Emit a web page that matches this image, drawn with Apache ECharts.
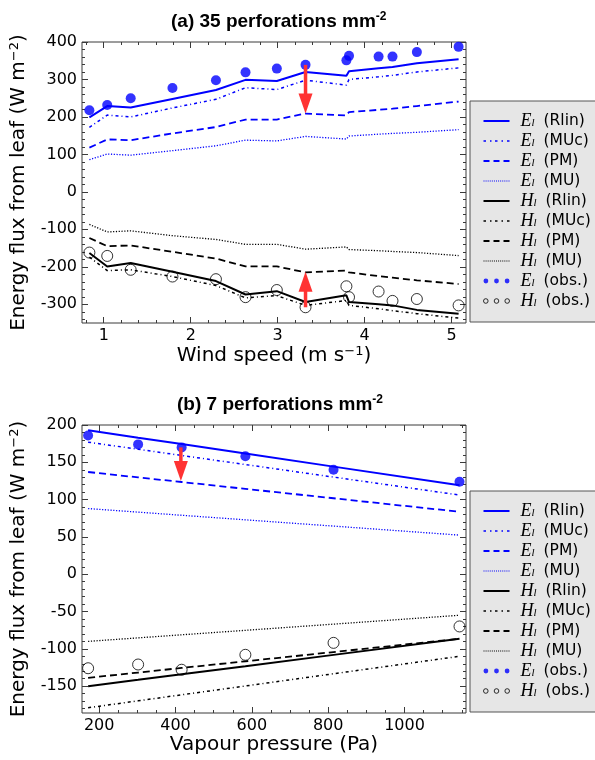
<!DOCTYPE html>
<html><head><meta charset="utf-8">
<script src="https://cdn.jsdelivr.net/npm/echarts@6/dist/echarts.min.js"></script>
<style>html,body{margin:0;padding:0;background:#fff}#c{width:595px;height:760px}</style>
</head><body><div id="c"></div>
<script>
// ---------- Panel (a): 35 perforations mm-2 ----------
const windSpeed = [0.835, 1.04, 1.31, 1.79, 2.29, 2.63, 2.99, 3.32, 3.79, 3.82, 4.16, 4.32, 4.60, 5.08];
const aE_obs  = [218, 232, 250, 277, 298, 319, 329, 339, 351, 363, 361, 361, 373, 387];
const aH_obs  = [-162, -171, -208, -226, -233, -281, -262, -308, -252, -281, -266, -291, -286, -303];
const aE_Rlin = [199, 229, 225, 248, 272, 299, 296, 320, 310, 322, 330, 333, 343, 354];
const aE_MUc  = [172, 205, 200, 224, 247, 278, 273, 298, 285, 300, 307, 311, 320, 331];
const aE_PM   = [118, 140, 138, 156, 173, 193, 193, 209, 204, 213, 219, 222, 229, 241];
const aE_MU   = [86, 101, 98, 110, 123, 138, 136, 148, 141, 149, 154, 156, 159, 166];
const aH_Rlin = [-163, -199, -190, -213, -238, -274, -265, -294, -276, -294, -300, -303, -315, -325];
const aH_MUc  = [-174, -210, -208, -226, -250, -283, -277, -303, -290, -303, -312, -317, -325, -337];
const aH_PM   = [-123, -145, -143, -160, -178, -199, -199, -215, -210, -215, -225, -229, -236, -246];
const aH_MU   = [-87, -107, -104, -117, -127, -140, -140, -153, -147, -154, -157, -159, -162, -170];
const aArrows = [[3.32, 339, 209], [3.32, -308, -213]];
const aXTicks = [1, 2, 3, 4, 5];
const aYTicks = [-300, -200, -100, 0, 100, 200, 300, 400];

// ---------- Panel (b): 7 perforations mm-2 ----------
const vapour  = [171, 302, 416, 583, 814, 1144];
const bE_obs  = [186, 174, 170, 158, 140, 124];
const bH_obs  = [-126, -121, -128, -108, -92, -70];
const bE_Rlin = [193, 183, 174.4, 161.7, 144.2, 119.2];
const bE_MUc  = [177, 167.5, 159.2, 147, 130.2, 106.1];
const bE_PM   = [137, 129.8, 123.6, 114.4, 101.8, 83.7];
const bE_MU   = [88, 83.2, 79, 72.9, 64.5, 52.4];
const bH_Rlin = [-150, -141.5, -134, -123.2, -108.1, -86.6];
const bH_MUc  = [-179, -169.7, -161.6, -149.8, -133.4, -110];
const bH_PM   = [-138.8, -131.8, -125.6, -116.7, -104.3, -86.5];
const bH_MU   = [-90, -85.3, -81.2, -75.2, -66.9, -55];
const bArrows = [[414, 170, 125]];
const bXTicks = [200, 400, 600, 800, 1000];
const bYTicks = [-150, -100, -50, 0, 50, 100, 150, 200];

const legendNames = ['E_l (Rlin)', 'E_l (MUc)', 'E_l (PM)', 'E_l (MU)', 'H_l (Rlin)', 'H_l (MUc)', 'H_l (PM)', 'H_l (MU)', 'E_l (obs.)', 'H_l (obs.)'];

// ---------- helpers ----------
const FRAME = '#3a3a3a';
const BLUE = '#0000ff';
const RED = '#ff3333';
function minorTicks(min, max, step, majors) {
  const out = [];
  const start = Math.ceil(min / step - 1e-9);
  for (let k = start; k * step <= max + 1e-9; k++) {
    const v = +(k * step).toFixed(6);
    if (!majors.some(m => Math.abs(m - v) < 1e-9)) out.push(v);
  }
  return out;
}
function axisPair(grid, side, min, max, major, minor, extra) {
  const base = {
    gridIndex: grid, type: 'value', min, max, position: side,
    axisLine: { show: false, onZero: false }, splitLine: { show: false }, axisLabel: { show: false },
    axisTick: { show: true, inside: true, length: 6, lineStyle: { color: FRAME, width: 1 }, customValues: major }
  };
  const minorAx = Object.assign({}, base, {
    axisTick: { show: true, inside: true, length: 3, lineStyle: { color: FRAME, width: 1 }, customValues: minor }
  });
  return [Object.assign({}, base, extra || {}), minorAx];
}
const labelStyle = { show: true, fontFamily: 'DejaVu Sans', fontSize: 16, color: '#000', formatter: v => String(v) };
const NAME_FS = 20;
const supRich = {
  p: { fontFamily: 'DejaVu Sans', fontSize: 13, color: '#000', padding: [0, 0, 9, 0] },
  q: { fontFamily: 'DejaVu Sans', fontSize: NAME_FS, color: '#000' }
};

const dashes = { Rlin: 'solid', MUc: [3, 3, 1, 3], PM: [7, 4], MU: [1.2, 1.6] };
const widths = { Rlin: 2, MUc: 1.5, PM: 1.8, MU: 1.3 };
function lineSeries(name, xs, ys, color, key, xi, yi) {
  return {
    type: 'line', name, xAxisIndex: xi, yAxisIndex: yi,
    data: xs.map((x, i) => [x, ys[i]]), symbol: 'none', showSymbol: false,
    color, itemStyle: { color }, lineStyle: { color, width: widths[key], type: dashes[key] },
    z: 2, silent: true
  };
}
function obsSeries(name, xs, ys, filled, xi, yi) {
  return {
    type: 'scatter', name, xAxisIndex: xi, yAxisIndex: yi,
    data: xs.map((x, i) => [x, ys[i]]), symbol: 'circle', symbolSize: filled ? 10 : 11,
    itemStyle: filled ? { color: BLUE, borderWidth: 0 } : { color: 'rgba(255,255,255,0)', borderColor: '#000', borderWidth: 1 },
    z: 3, silent: true, clip: false
  };
}
function arrowSeries(data, xi, yi) {
  return {
    type: 'custom', xAxisIndex: xi, yAxisIndex: yi, data, z: 10, silent: true, clip: false,
    encode: { x: 0, y: [1, 2] },
    renderItem(params, api) {
      const p1 = api.coord([api.value(0), api.value(1)]);
      const p2 = api.coord([api.value(0), api.value(2)]);
      const dir = p2[1] > p1[1] ? 1 : -1;
      const hl = 20, hw = 7;
      const base = p2[1] - dir * hl;
      return { type: 'group', children: [
        { type: 'line', shape: { x1: p1[0], y1: p1[1], x2: p2[0], y2: base + dir * 1 }, style: { stroke: RED, lineWidth: 3.5 } },
        { type: 'polygon', shape: { points: [[p2[0], p2[1]], [p2[0] - hw, base], [p2[0] + hw, base]] }, style: { fill: RED } }
      ] };
    }
  };
}
function panelSeries(xs, d, xi, yi) {
  return [
    lineSeries('E_l (Rlin)', xs, d.E_Rlin, BLUE, 'Rlin', xi, yi),
    lineSeries('E_l (MUc)', xs, d.E_MUc, BLUE, 'MUc', xi, yi),
    lineSeries('E_l (PM)', xs, d.E_PM, BLUE, 'PM', xi, yi),
    lineSeries('E_l (MU)', xs, d.E_MU, BLUE, 'MU', xi, yi),
    lineSeries('H_l (Rlin)', xs, d.H_Rlin, '#000', 'Rlin', xi, yi),
    lineSeries('H_l (MUc)', xs, d.H_MUc, '#000', 'MUc', xi, yi),
    lineSeries('H_l (PM)', xs, d.H_PM, '#000', 'PM', xi, yi),
    lineSeries('H_l (MU)', xs, d.H_MU, '#000', 'MU', xi, yi),
    obsSeries('E_l (obs.)', xs, d.E_obs, true, xi, yi),
    obsSeries('H_l (obs.)', xs, d.H_obs, false, xi, yi),
    arrowSeries(d.arrows, xi, yi)
  ];
}

// legend icons (paths)
function dotPath(n, step, w, h) { let s = ''; for (let i = 0; i < n; i++) { const x = +(i * step).toFixed(2); s += `M${x},0h${w}v${h}h-${w}z `; } return s; }
function circlesPath(r) { const cs = [r, 13, 26 - r]; return cs.map(c => `M${(c - r).toFixed(2)},${r}a${r},${r} 0 1,0 ${2 * r},0a${r},${r} 0 1,0 -${2 * r},0z`).join(' '); }
const icons = {
  Rlin: 'path://M0,0H26V2H0Z',
  MUc: 'path://M0,0h2.5v1.5h-2.5z M6.5,0h1.5v1.5h-1.5z M11.5,0h2.5v1.5h-2.5z M18,0h1.5v1.5h-1.5z M23.5,0h2.5v1.5h-2.5z',
  PM: 'path://M0,0h6v1.8h-6z M10,0h6v1.8h-6z M20,0h6v1.8h-6z',
  MU: 'path://' + dotPath(13, 2.083, 1, 1),
  Eobs: 'path://' + circlesPath(2.4),
  Hobs: 'path://' + circlesPath(2.3)
};
function legendData() {
  return legendNames.map(n => {
    const key = n.match(/\((.*)\)/)[1];
    if (key === 'obs.') {
      return n[0] === 'E'
        ? { name: n, icon: icons.Eobs, itemStyle: { color: BLUE, borderWidth: 0 } }
        : { name: n, icon: icons.Hobs, itemStyle: { color: 'rgba(255,255,255,0)', borderColor: '#000', borderWidth: 1 } };
    }
    return { name: n, icon: icons[key], itemStyle: { color: n[0] === 'E' ? BLUE : '#000', borderWidth: 0 } };
  });
}
function legendAt(top) {
  return {
    orient: 'vertical', left: 470, top, data: legendData(), selectedMode: false,
    backgroundColor: '#e6e6e6', borderColor: '#555', borderWidth: 1, borderRadius: 0,
    padding: [11, 40, 12, 13], itemWidth: 26, itemHeight: 14, itemGap: 2,
    symbolKeepAspect: true,
    formatter: name => name.replace(/^([EH])_l (.*)$/, '{m|$1}{s|l}{t|$2}'),
    textStyle: {
      fontFamily: 'DejaVu Sans', fontSize: 15, color: '#000', lineHeight: 14,
      rich: {
        m: { fontFamily: 'Liberation Serif', fontStyle: 'italic', fontSize: 18, color: '#000', lineHeight: 14, padding: [0, 0, 0, 6] },
        s: { fontFamily: 'Liberation Serif', fontStyle: 'italic', fontSize: 11, color: '#000', lineHeight: 14, padding: [5, 0, 0, 0] },
        t: { fontFamily: 'DejaVu Sans', fontSize: 15.5, color: '#000', lineHeight: 14, padding: [0, 0, 0, 9] }
      }
    }
  };
}

// ---------- axes ----------
const aXRange = [0.75, 5.165], aYRange = [-350, 400];
const bXRange = [155, 1161], bYRange = [-186, 200];
const aXMinor = minorTicks(aXRange[0], aXRange[1], 0.2, aXTicks);
const aYMinor = minorTicks(aYRange[0], aYRange[1], 20, aYTicks);
const bXMinor = minorTicks(bXRange[0], bXRange[1], 50, bXTicks);
const bYMinor = minorTicks(bYRange[0], bYRange[1], 10, bYTicks);

const yNameObj = {
  name: 'Energy flux from leaf (W m{p|−2}{q|)}', nameLocation: 'middle', nameGap: 52, nameRotate: 90,
  nameTextStyle: { fontFamily: 'DejaVu Sans', fontSize: NAME_FS, color: '#000', rich: supRich }
};

const xAxes = [
  ...axisPair(0, 'bottom', aXRange[0], aXRange[1], aXTicks, aXMinor, {
    axisLabel: Object.assign({}, labelStyle, { margin: 5, customValues: aXTicks }),
    name: 'Wind speed (m s{p|−1}{q|)}', nameLocation: 'middle', nameGap: 22,
    nameTextStyle: { fontFamily: 'DejaVu Sans', fontSize: NAME_FS, color: '#000', rich: supRich }
  }),
  ...axisPair(0, 'top', aXRange[0], aXRange[1], aXTicks, aXMinor),
  ...axisPair(1, 'bottom', bXRange[0], bXRange[1], bXTicks, bXMinor, {
    axisLabel: Object.assign({}, labelStyle, { margin: 5, customValues: bXTicks }),
    name: 'Vapour pressure (Pa)', nameLocation: 'middle', nameGap: 22,
    nameTextStyle: { fontFamily: 'DejaVu Sans', fontSize: NAME_FS, color: '#000' }
  }),
  ...axisPair(1, 'top', bXRange[0], bXRange[1], bXTicks, bXMinor)
];
const yAxes = [
  ...axisPair(0, 'left', aYRange[0], aYRange[1], aYTicks, aYMinor,
    Object.assign({ axisLabel: Object.assign({}, labelStyle, { margin: 5, customValues: aYTicks }) }, yNameObj)),
  ...axisPair(0, 'right', aYRange[0], aYRange[1], aYTicks, aYMinor),
  ...axisPair(1, 'left', bYRange[0], bYRange[1], bYTicks, bYMinor,
    Object.assign({ axisLabel: Object.assign({}, labelStyle, { margin: 5, customValues: bYTicks }) }, yNameObj)),
  ...axisPair(1, 'right', bYRange[0], bYRange[1], bYTicks, bYMinor)
];

const titleRich = {
  t: { fontFamily: 'Liberation Sans', fontWeight: 'bold', fontSize: 19, color: '#000' },
  u: { fontFamily: 'Liberation Sans', fontWeight: 'bold', fontSize: 12, color: '#000', padding: [0, 0, 10, 0] }
};

const option = {
  animation: false,
  backgroundColor: '#fff',
  title: [
    { text: '{t|(a) 35 perforations mm}{u|-2}', left: 166, top: 6, textStyle: { rich: titleRich } },
    { text: '{t|(b) 7 perforations mm}{u|-2}', left: 172, top: 389, textStyle: { rich: titleRich } }
  ],
  grid: [
    { left: 81, top: 42, width: 385, height: 281, show: true, borderColor: FRAME, borderWidth: 1, backgroundColor: '#fff' },
    { left: 81, top: 425, width: 385, height: 288, show: true, borderColor: FRAME, borderWidth: 1, backgroundColor: '#fff' }
  ],
  legend: [legendAt(101), legendAt(491)],
  xAxis: xAxes,
  yAxis: yAxes,
  series: [
    ...panelSeries(windSpeed, { E_Rlin: aE_Rlin, E_MUc: aE_MUc, E_PM: aE_PM, E_MU: aE_MU, H_Rlin: aH_Rlin, H_MUc: aH_MUc, H_PM: aH_PM, H_MU: aH_MU, E_obs: aE_obs, H_obs: aH_obs, arrows: aArrows }, 0, 0),
    ...panelSeries(vapour, { E_Rlin: bE_Rlin, E_MUc: bE_MUc, E_PM: bE_PM, E_MU: bE_MU, H_Rlin: bH_Rlin, H_MUc: bH_MUc, H_PM: bH_PM, H_MU: bH_MU, E_obs: bE_obs, H_obs: bH_obs, arrows: bArrows }, 4, 4)
  ]
};
const chart = echarts.init(document.getElementById('c'), null, { renderer: 'canvas' });
chart.setOption(option);
</script></body></html>
